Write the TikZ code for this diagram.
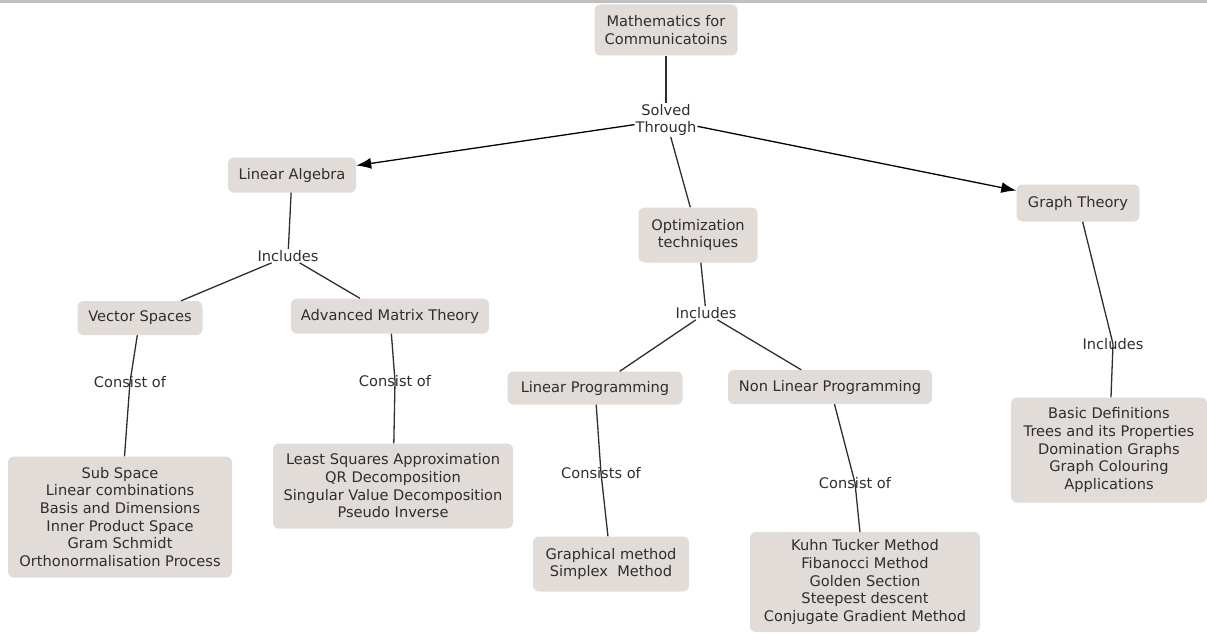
\documentclass[tikz,border=0pt]{standalone}
\usepackage{fontspec}
\setmainfont{DejaVu Sans}
\usetikzlibrary{arrows.meta}

\definecolor{boxgray}{HTML}{E1DCD8}
\definecolor{inkgray}{HTML}{2E2E2E}
\definecolor{bargray}{HTML}{C0C0C0}

\tikzset{
	box/.style={fill=boxgray, rounded corners=6pt, align=center, text=inkgray, inner sep=0pt},
	lbl/.style={align=center, text=inkgray, inner sep=1pt},
	link/.style={draw=inkgray, line width=1.3pt},
	tip/.style={draw=black, -{Latex[length=15pt,width=11pt]}},
}

\begin{document}
\begin{tikzpicture}[x=1pt,y=-1pt,font=\fontsize{14.6}{17.7}\selectfont]
	\useasboundingbox (0,0) rectangle (1207,634);
	\fill[bargray] (0,0) rectangle (1207,3);

	% concepts
	\node[box, minimum width=143pt, minimum height=51pt] (maths) at (666,30) {Mathematics for\\Communicatoins};
	\node[box, minimum width=128pt, minimum height=35pt] (linalg) at (292,175) {Linear Algebra};
	\node[box, minimum width=119pt, minimum height=55pt] (optim) at (698,235) {Optimization\\techniques};
	\node[box, minimum width=123pt, minimum height=37pt] (graph) at (1078,203) {Graph Theory};
	\node[box, minimum width=125pt, minimum height=34pt] (vecsp) at (140,318) {Vector Spaces};
	\node[box, minimum width=198pt, minimum height=35pt] (advmat) at (390,316) {Advanced Matrix Theory};
	\node[box, minimum width=175pt, minimum height=33pt] (linprog) at (595,388) {Linear Programming};
	\node[box, minimum width=204pt, minimum height=34pt] (nlprog) at (830,387) {Non Linear Programming};

	\node[box, minimum width=224pt, minimum height=121pt] (vsitems) at (120,517)
		{Sub Space\\Linear combinations\\Basis and Dimensions\\Inner Product Space\\Gram Schmidt\\Orthonormalisation Process};
	\node[box, minimum width=240pt, minimum height=85pt] (amitems) at (393,486)
		{Least Squares Approximation\\QR Decomposition\\Singular Value Decomposition\\Pseudo Inverse};
	\node[box, minimum width=156pt, minimum height=55pt] (lpitems) at (611,564)
		{Graphical method\\Simplex\ \ Method};
	\node[box, minimum width=230pt, minimum height=100pt] (nlitems) at (865,582)
		{Kuhn Tucker Method\\Fibanocci Method\\Golden Section\\Steepest descent\\Conjugate Gradient Method};
	\node[box, minimum width=196pt, minimum height=105pt] (gtitems) at (1109,450)
		{Basic Definitions\\Trees and its Properties\\Domination Graphs\\Graph Colouring\\Applications};

	% linking phrases
	\node[lbl] (solved) at (666,120) {Solved\\Through};
	\node[lbl] (lainc) at (288,256) {Includes};
	\node[lbl] (opinc) at (706,313) {Includes};
	\node[lbl] (gtinc) at (1113,344) {Includes};
	\node[lbl] (vscons) at (130,382) {Consist of};
	\node[lbl] (amcons) at (395,381) {Consist of};
	\node[lbl] (lpcons) at (601,473) {Consists of};
	\node[lbl] (nlcons) at (855,483) {Consist of};

	\draw[link] (maths) -- (solved);
	\draw[link, tip] (solved) -- (linalg);
	\draw[link, tip] (solved) -- (graph);
	\draw[link] (solved) -- (optim);

	\draw[link] (linalg) -- (lainc);
	\foreach \n in {vecsp, advmat}
		\draw[link] (lainc) -- (\n);
	\draw[link] (optim) -- (opinc);
	\foreach \n in {linprog, nlprog}
		\draw[link] (opinc) -- (\n);

	% lines run through the label text
	\foreach \a/\b/\c in {vecsp/vscons/vsitems, advmat/amcons/amitems, linprog/lpcons/lpitems, nlprog/nlcons/nlitems, graph/gtinc/gtitems}
		\draw[link] (\a) -- (\b.center) -- (\c);
\end{tikzpicture}
\end{document}
